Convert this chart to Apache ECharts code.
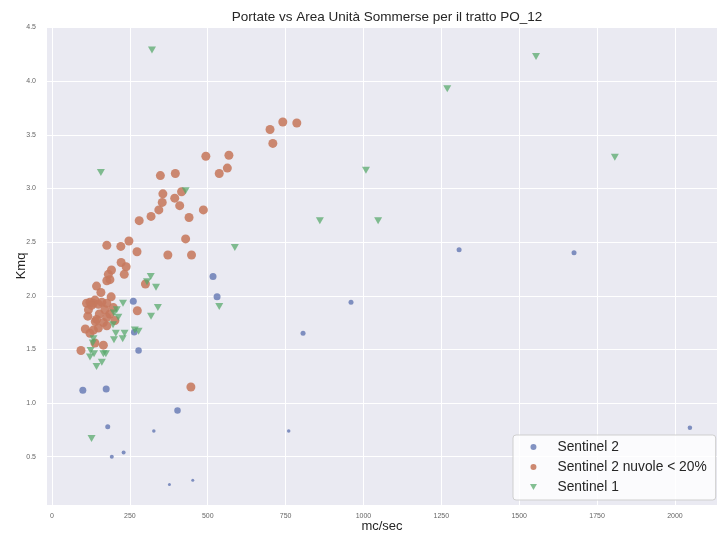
<!DOCTYPE html>
<html><head><meta charset="utf-8">
<script src="https://cdn.jsdelivr.net/npm/echarts@6/dist/echarts.min.js"></script>
<style>html,body{margin:0;padding:0;background:#fff}#c{width:721px;height:533px}</style>
</head><body><div id="c"></div>
<script>
const xTicks = [0, 250, 500, 750, 1000, 1250, 1500, 1750, 2000];
const yTicks = [0.5, 1.0, 1.5, 2.0, 2.5, 3.0, 3.5, 4.0, 4.5];

// Sentinel 2
const s2X = [99, 174, 261, 264, 278, 517, 530, 403, 179, 960, 806, 1307, 1676, 2048, 327, 760, 192, 230, 377, 452];
const s2Y = [1.12, 1.13, 1.95, 1.66, 1.49, 2.18, 1.99, 0.93, 0.78, 1.94, 1.65, 2.43, 2.40, 0.77, 0.74, 0.74, 0.50, 0.54, 0.24, 0.28];
const s2Weight = [7, 7, 7, 6.5, 6.5, 7, 7, 6.5, 5, 5, 5, 5, 5, 4.5, 3.5, 3.5, 4, 4, 3, 3];

// Sentinel 2 nuvole < 20%
const s2cX = [700,741,786,709,494,568,537,563,348,396,356,416,394,354,410,343,486,318,440,280,429,247,176,221,273,372,448,222,238,191,232,181,176,186,300,143,157,190,122,133,111,138,160,176,127,149,274,115,152,186,170,197,117,176,139,165,202,143,107,122,149,133,176,138,165,93,446];
const s2cY = [3.55,3.62,3.61,3.42,3.30,3.31,3.14,3.19,3.12,3.14,2.95,2.97,2.91,2.87,2.84,2.80,2.80,2.74,2.73,2.70,2.53,2.51,2.47,2.46,2.41,2.38,2.38,2.31,2.27,2.24,2.20,2.20,2.14,2.15,2.11,2.09,2.03,1.99,1.94,1.93,1.93,1.96,1.94,1.93,1.91,1.92,1.86,1.81,1.83,1.83,1.87,1.89,1.87,1.80,1.76,1.75,1.77,1.78,1.69,1.65,1.70,1.68,1.72,1.56,1.54,1.49,1.15];

// Sentinel 1
const s1X = [321,1554,1269,1807,157,1008,860,1047,587,429,317,334,305,228,340,318,537,208,213,199,196,278,266,205,233,227,199,133,131,124,173,122,135,160,143,165,127];
const s1Y = [4.29,4.23,3.93,3.29,3.15,3.17,2.70,2.70,2.45,2.98,2.18,2.08,2.13,1.93,1.89,1.81,1.90,1.87,1.80,1.84,1.73,1.67,1.68,1.65,1.65,1.60,1.59,1.60,1.56,1.49,1.46,1.43,1.46,1.38,1.34,1.46,0.67];

const seriesNames = ['Sentinel 2', 'Sentinel 2 nuvole < 20%', 'Sentinel 1'];
const FONT = "'Liberation Sans', Arial, sans-serif";
const TRI = 'path://M0,0L10,0L5,8.66Z';

const zip = (xs, ys, extra) => xs.map((x, i) => extra ? [x, ys[i], extra[i]] : [x, ys[i]]);

const chart = echarts.init(document.getElementById('c'), null, {renderer: 'canvas'});
chart.setOption({
  animation: false,
  backgroundColor: '#ffffff',
  title: {
    text: 'Portate vs Area Unità Sommerse per il tratto PO_12',
    left: 382, top: 5, textAlign: 'center',
    textStyle: {fontFamily: FONT, fontSize: 13.5, fontWeight: 'normal', color: '#262626'}
  },
  grid: {left: 47, right: 4, top: 27, bottom: 28, show: true, backgroundColor: '#EAEAF2', borderWidth: 0,
    outerBoundsMode: 'none', containLabel: false},
  xAxis: {
    type: 'value', min: -16, max: 2135,
    name: 'mc/sec', nameLocation: 'middle', nameGap: 15, nameMoveOverlap: false,
    nameTextStyle: {fontFamily: FONT, fontSize: 13, color: '#262626'},
    axisLine: {show: false},
    axisTick: {show: false, customValues: xTicks},
    axisLabel: {customValues: xTicks, fontFamily: FONT, fontSize: 7, color: '#666', margin: 8,
      formatter: v => String(v)},
    splitLine: {show: true, lineStyle: {color: '#ffffff', width: 1}}
  },
  yAxis: {
    type: 'value', min: 0.05, max: 4.505,
    name: 'Kmq', nameLocation: 'middle', nameGap: 19, nameMoveOverlap: false,
    nameTextStyle: {fontFamily: FONT, fontSize: 13, color: '#262626'},
    axisLine: {show: false},
    axisTick: {show: false, customValues: yTicks},
    axisLabel: {customValues: yTicks, fontFamily: FONT, fontSize: 7, color: '#666', margin: 11,
      formatter: v => v.toFixed(1)},
    splitLine: {show: true, lineStyle: {color: '#ffffff', width: 1}}
  },
  legend: {
    orient: 'vertical', left: 513, top: 435,
    itemWidth: 38, itemHeight: 6, itemGap: 6,
    padding: [5, 9, 6, 17],
    backgroundColor: 'rgba(255,255,255,0.8)', borderColor: '#cfcfcf', borderWidth: 1, borderRadius: 3,
    textStyle: {fontFamily: FONT, fontSize: 13.8, color: '#262626'},
    data: [
      {name: seriesNames[0], icon: 'circle'},
      {name: seriesNames[1], icon: 'circle'},
      {name: seriesNames[2], icon: TRI}
    ]
  },
  series: [
    {
      name: seriesNames[0], type: 'scatter', symbol: 'circle',
      symbolSize: v => v[2],
      itemStyle: {color: '#5A6FAE', opacity: 0.75},
      data: zip(s2X, s2Y, s2Weight)
    },
    {
      name: seriesNames[1], type: 'scatter', symbol: 'circle', symbolSize: 9,
      itemStyle: {color: '#C6795D', opacity: 0.88},
      data: zip(s2cX, s2cY)
    },
    {
      name: seriesNames[2], type: 'scatter', symbol: TRI, symbolSize: [8, 7],
      itemStyle: {color: '#55A868', opacity: 0.72},
      data: zip(s1X, s1Y)
    }
  ]
});
</script>
</body></html>
